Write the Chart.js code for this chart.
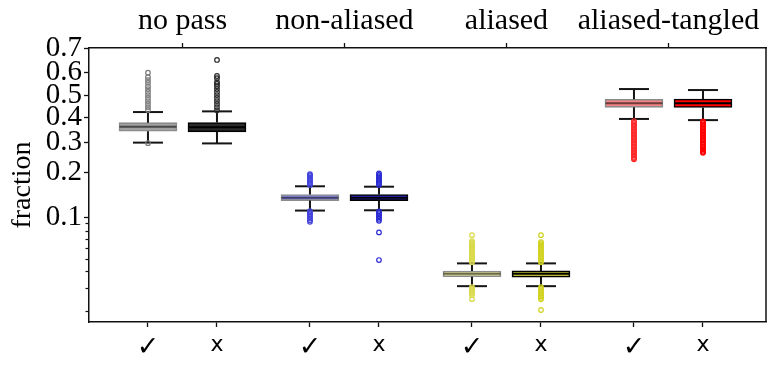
<!DOCTYPE html>
<html><head><meta charset="utf-8">
<script src="https://cdn.jsdelivr.net/npm/chart.js@4"></script>
<style>html,body{margin:0;padding:0;background:#fff}</style>
</head><body>
<canvas id="c" width="772" height="371"></canvas>
<script>
// ---- data ----
const groups = ['no pass', 'non-aliased', 'aliased', 'aliased-tangled'];
const variants = ['\u2713', 'x'];
// box order: no pass ✓, no pass x, non-aliased ✓, non-aliased x, aliased ✓, aliased x, aliased-tangled ✓, aliased-tangled x
const whiskerLow  = [0.298, 0.295, 0.111, 0.1115, 0.0310, 0.0310, 0.394, 0.389];
const q1          = [0.343, 0.340, 0.130, 0.130, 0.0365, 0.0363, 0.445, 0.444];
const median      = [0.361, 0.359, 0.136, 0.136, 0.0384, 0.0384, 0.463, 0.463];
const q3          = [0.378, 0.379, 0.143, 0.143, 0.0403, 0.0404, 0.481, 0.482];
const whiskerHigh = [0.424, 0.427, 0.162, 0.161, 0.0460, 0.0460, 0.527, 0.5225];

const fliersNoPassCheck = [0.296, 0.433, 0.446, 0.46, 0.473, 0.487, 0.5, 0.514, 0.527, 0.54, 0.555, 0.567, 0.58, 0.599];
const fliersNoPassX = [0.432, 0.446, 0.46, 0.473, 0.487, 0.5, 0.514, 0.527, 0.54, 0.55, 0.558, 0.575, 0.585, 0.653];
const fliersNonAliasedCheck = [0.165, 0.169, 0.1725, 0.176, 0.18, 0.184, 0.1885, 0.191, 0.194,
  0.110, 0.1075, 0.105, 0.1025, 0.1, 0.0975, 0.095, 0.0925];
const fliersNonAliasedX = [0.165, 0.169, 0.1725, 0.176, 0.18, 0.184, 0.1885, 0.192, 0.196,
  0.1095, 0.107, 0.1045, 0.102, 0.0995, 0.097, 0.094, 0.0777, 0.0487];
const fliersAliasedCheck = [0.047, 0.048, 0.0495, 0.051, 0.052, 0.0535, 0.055, 0.0565, 0.058, 0.059, 0.0605, 0.062, 0.064, 0.0655, 0.0672, 0.0742,
  0.0305, 0.0297, 0.0289, 0.0281, 0.0274, 0.0265, 0.0247];
const fliersAliasedX = [0.047, 0.048, 0.0495, 0.051, 0.052, 0.0535, 0.055, 0.0565, 0.058, 0.059, 0.0605, 0.062, 0.0635, 0.065, 0.066, 0.0742,
  0.0305, 0.0297, 0.0289, 0.0281, 0.0274, 0.0267, 0.026, 0.0253, 0.0246, 0.0204];
const fliersTangledCheck = [0.385, 0.378, 0.372, 0.366, 0.36, 0.353, 0.347, 0.341, 0.335, 0.329, 0.323, 0.317, 0.312, 0.306, 0.3,
  0.295, 0.289, 0.283, 0.278, 0.272, 0.267, 0.262, 0.257, 0.252, 0.247, 0.243, 0.239];
const fliersTangledX = [0.383, 0.377, 0.371, 0.365, 0.359, 0.353, 0.347, 0.341, 0.335, 0.329, 0.323, 0.317, 0.311, 0.306, 0.3,
  0.294, 0.289, 0.283, 0.278, 0.273, 0.268, 0.264, 0.261];
const fliers = [fliersNoPassCheck, fliersNoPassX, fliersNonAliasedCheck, fliersNonAliasedX,
  fliersAliasedCheck, fliersAliasedX, fliersTangledCheck, fliersTangledX];

const yMajorTicks = [0.1, 0.2, 0.3, 0.4, 0.5, 0.6, 0.7];
const yMinorTicks = [0.02, 0.03, 0.04, 0.05, 0.06, 0.07, 0.08, 0.09];

// ---- styles ----
const boxFill   = ['#a0a0a0', '#2b2b2b', '#8a8ae6', '#2e2ed2', '#e9e99c', '#dcdc28', '#f28484', '#ff0000'];
const boxEdge   = ['rgba(0,0,0,0.45)', '#000', 'rgba(0,0,0,0.45)', '#000', 'rgba(0,0,0,0.45)', '#000', 'rgba(0,0,0,0.45)', '#000'];
const medColor  = ['rgba(0,0,0,0.55)', '#000', 'rgba(0,0,0,0.55)', '#000', 'rgba(0,0,0,0.55)', '#000', 'rgba(0,0,0,0.55)', '#000'];
const flierColor= ['#7a7a7a', '#2a2a2a', '#4444dd', '#2b2bd4', '#d9d94a', '#d2d222', '#ff2a2a', '#ff0000'];

const OFF = 0.213;
const pos = i => Math.floor(i / 2) + (i % 2 ? OFF : -OFF);
const boxPos = q1.map((_, i) => pos(i));

// ---- logit scale ----
const lg = p => Math.log(p / (1 - p));
const ilg = l => 1 / (1 + Math.exp(-l));
class LogitScale extends Chart.Scale {
  static id = 'logit';
  static defaults = {};
  parse(raw) {
    if (raw === null || raw === undefined) return null;
    const v = +raw;
    return (isFinite(v) && v > 0 && v < 1) ? v : null;
  }
  determineDataLimits() {
    const mm = this.getMinMax(true);
    this.min = this.options.min ?? mm.min;
    this.max = this.options.max ?? mm.max;
  }
  buildTicks() { return (this.options.tickValues || []).map(v => ({ value: v })); }
  configure() {
    super.configure();
    this._startL = lg(this.min);
    this._rangeL = lg(this.max) - lg(this.min);
  }
  getLabelForValue(v) { return String(v); }
  getPixelForValue(v) {
    if (v === null || v === undefined || isNaN(v)) return NaN;
    return this.getPixelForDecimal((lg(v) - this._startL) / this._rangeL);
  }
  getValueForPixel(p) { return ilg(this._startL + this.getDecimalForPixel(p) * this._rangeL); }
}
Chart.register(LogitScale);

// ---- datasets ----
const datasets = [];
fliers.forEach((arr, i) => {
  datasets.push({
    type: 'scatter', order: 1,
    data: arr.map(v => ({ x: boxPos[i], y: v })),
    pointStyle: 'circle', pointRadius: 2.3, pointBorderWidth: 1.2, pointHoverRadius: 0,
    pointBackgroundColor: 'rgba(0,0,0,0)', pointBorderColor: flierColor[i]
  });
});
datasets.push({
  type: 'scatter', order: 2,
  data: median.map((v, i) => ({ x: boxPos[i], y: v })),
  pointStyle: 'line', pointRadius: 28.5, pointBorderWidth: 2, pointHoverRadius: 0,
  pointBorderColor: medColor
});
datasets.push({
  type: 'scatter', order: 3,
  data: whiskerLow.map((v, i) => ({ x: boxPos[i], y: v })).concat(whiskerHigh.map((v, i) => ({ x: boxPos[i], y: v }))),
  pointStyle: 'line', pointRadius: 15, pointBorderWidth: 2, pointHoverRadius: 0,
  pointBorderColor: '#151515'
});
const wdata = [];
q1.forEach((_, i) => {
  wdata.push({ x: boxPos[i], y: q3[i] }, { x: boxPos[i], y: whiskerHigh[i] }, { x: boxPos[i], y: null });
  wdata.push({ x: boxPos[i], y: q1[i] }, { x: boxPos[i], y: whiskerLow[i] }, { x: boxPos[i], y: null });
});
datasets.push({
  type: 'line', order: 4, data: wdata, spanGaps: false,
  borderColor: '#151515', borderWidth: 2, pointRadius: 0, pointHoverRadius: 0, fill: false
});
datasets.push({
  type: 'bar', order: 5,
  data: q1.map((v, i) => ({ x: boxPos[i], y: [v, q3[i]] })),
  backgroundColor: boxFill, borderColor: boxEdge, borderWidth: 1.6,
  borderSkipped: false, barThickness: 58
});

const frame = {
  id: 'frame',
  afterDraw(chart) {
    const ctx = chart.ctx, a = chart.chartArea, y = chart.scales.y;
    ctx.save();
    ctx.strokeStyle = '#111';
    ctx.lineWidth = 1.2;
    yMinorTicks.forEach(v => {
      const py = Math.round(y.getPixelForValue(v)) + 0.5;
      ctx.beginPath(); ctx.moveTo(a.left - 3.5, py); ctx.lineTo(a.left, py); ctx.stroke();
    });
    ctx.lineWidth = 1.5;
    ctx.beginPath(); ctx.moveTo(a.right, a.top); ctx.lineTo(a.right, a.bottom); ctx.stroke();
    ctx.restore();
  }
};

const serif = 'Liberation Serif';
const gridOpts = { offset: false, drawOnChartArea: false, drawTicks: true, tickLength: 5, tickWidth: 1.3, tickColor: '#111' };
new Chart(document.getElementById('c'), {
  type: 'scatter',
  data: { datasets },
  options: {
    responsive: false, animation: false, devicePixelRatio: 1,
    layout: { autoPadding: false, padding: { left: 0, right: 6, top: 0, bottom: 0 } },
    plugins: { legend: { display: false }, tooltip: { enabled: false } },
    scales: {
      x: {
        type: 'linear', position: 'bottom', min: -0.577, max: 3.602, offset: false,
        grid: gridOpts,
        border: { display: true, color: '#111', width: 1.5 },
        afterBuildTicks: s => { s.ticks = boxPos.map(v => ({ value: v })); },
        afterFit: s => { s.height = 49; },
        ticks: {
          autoSkip: false, maxRotation: 0, padding: 5, color: '#000',
          callback: (v, i) => variants[i % 2],
          font: ctx => ({ family: 'DejaVu Sans', size: ctx.index % 2 === 0 ? 27 : 22 })
        }
      },
      x2: {
        type: 'linear', position: 'top', axis: 'x', min: -0.577, max: 3.602, offset: false,
        grid: gridOpts,
        border: { display: true, color: '#111', width: 1.5 },
        afterBuildTicks: s => { s.ticks = groups.map((_, i) => ({ value: i })); },
        afterFit: s => { s.height = 48; },
        ticks: {
          autoSkip: false, maxRotation: 0, padding: 4, color: '#000',
          callback: (v, i) => groups[i],
          font: { family: serif, size: 30 }
        }
      },
      y: {
        type: 'logit', position: 'left', min: 0.0165, max: 0.7, stacked: false,
        tickValues: yMajorTicks,
        grid: gridOpts,
        border: { display: true, color: '#111', width: 1.5 },
        afterFit: s => { s.width = 89; },
        title: { display: true, text: 'fraction', color: '#000', font: { family: serif, size: 28 }, padding: { top: 6, bottom: 0 } },
        ticks: {
          autoSkip: false, padding: 2, color: '#000',
          callback: v => String(v),
          font: { family: serif, size: 29, lineHeight: 1.0 }
        }
      }
    }
  },
  plugins: [frame]
});
</script>
</body></html>
